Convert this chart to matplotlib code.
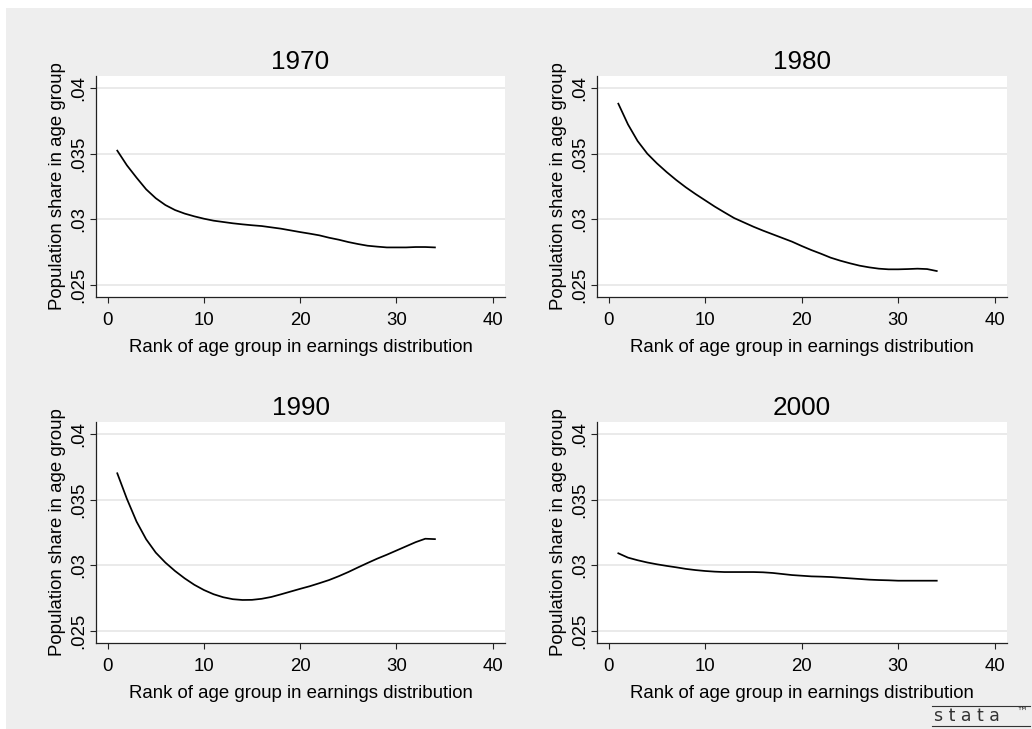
import matplotlib.pyplot as plt
from matplotlib.patches import Rectangle
from matplotlib.lines import Line2D

plt.rcParams['font.family'] = ['Liberation Sans', 'DejaVu Sans']

# ranks of the 34 age groups
rank = list(range(1, 35))

share_1970 = [.03525, .03413, .03319, .03230, .03162, .03110, .03072, .03045, .03024, .03006,
              .02991, .02981, .02971, .02963, .02956, .02950, .02940, .02930, .02917, .02904,
              .02892, .02879, .02861, .02846, .02828, .02813, .02800, .02793, .02787, .02787,
              .02787, .02790, .02790, .02787]
share_1980 = [.03883, .03725, .03598, .03502, .03428, .03362, .03301, .03245, .03194, .03146,
              .03098, .03054, .03011, .02978, .02945, .02915, .02887, .02859, .02831, .02798,
              .02767, .02739, .02709, .02686, .02666, .02648, .02635, .02625, .02620, .02620,
              .02622, .02625, .02622, .02607]
share_1990 = [.03703, .03508, .03335, .03200, .03098, .03022, .02958, .02902, .02853, .02813,
              .02781, .02758, .02743, .02737, .02738, .02746, .02760, .02780, .02801, .02822,
              .02842, .02865, .02889, .02918, .02950, .02985, .03019, .03052, .03082, .03114,
              .03146, .03178, .03204, .03201]
share_2000 = [.03093, .03060, .03040, .03023, .03009, .02997, .02986, .02974, .02965, .02958,
              .02953, .02950, .02950, .02950, .02950, .02948, .02943, .02935, .02927, .02922,
              .02917, .02915, .02912, .02907, .02902, .02897, .02892, .02889, .02887, .02884,
              .02884, .02884, .02884, .02884]

years = ['1970', '1980', '1990', '2000']
series = [share_1970, share_1980, share_1990, share_2000]
yticks = [.025, .03, .035, .04]
ytick_labels = ['.025', '.03', '.035', '.04']
xticks = [0, 10, 20, 30, 40]

W, H = 1032, 729
fig = plt.figure(figsize=(W / 100, H / 100), dpi=100)
fig.patch.set_facecolor('white')
fig.patches.append(Rectangle((6 / W, 0), 1 - 6 / W, 1 - 8 / H, transform=fig.transFigure,
                             facecolor='#eeeeee', edgecolor='none', zorder=-1))

# plot regions in pixels: left, top, right, bottom
boxes = [(96, 76, 505, 297), (597, 76, 1007, 297),
         (96, 422, 505, 643), (597, 422, 1007, 643)]

for year, vals, (l, t, r, b) in zip(years, series, boxes):
    ax = fig.add_axes([l / W, 1 - b / H, (r - l) / W, (b - t) / H])
    ax.set_facecolor('white')
    ax.plot(rank, vals, color='black', lw=1.25)
    ax.set_xlim(-1.21, 41.28)
    ax.set_ylim(.02409, .04094)
    ax.set_xticks(xticks)
    ax.set_yticks(yticks)
    ax.set_yticklabels(ytick_labels, rotation=90, va='center')
    ax.grid(axis='y', color='#e8e8e8', lw=1.3)
    ax.set_axisbelow(True)
    for s in ['top', 'right']:
        ax.spines[s].set_visible(False)
    for s in ['left', 'bottom']:
        ax.spines[s].set_color('#222222')
        ax.spines[s].set_linewidth(0.9)
    ax.tick_params(length=4.5, width=0.8, color='#222222', labelsize=13.4, pad=2)
    ax.tick_params(axis='x', pad=6)
    ax.set_title(year, fontsize=18.8, pad=5)
    ax.set_xlabel('Rank of age group in earnings distribution', fontsize=13.4, labelpad=7.5)
    ax.set_ylabel('Population share in age group', fontsize=13.4, labelpad=3)

# stata logo
fig.add_artist(Line2D([932 / W, 1030 / W], [1 - 705.7 / H] * 2, color='#333333', lw=0.8))
fig.add_artist(Line2D([932 / W, 1030 / W], [1 - 725.7 / H] * 2, color='#333333', lw=0.8))
fig.text(934 / W, 1 - 716 / H, 's t a t a', ha='left', va='center', fontsize=12.5,
         color='#333333', family=['DejaVu Sans'])
fig.text(1016 / W, 1 - 712 / H, '™', ha='left', va='center', fontsize=8,
         color='#333333', family=['DejaVu Sans'])

fig.savefig('out.png', dpi=100, facecolor=fig.get_facecolor())
